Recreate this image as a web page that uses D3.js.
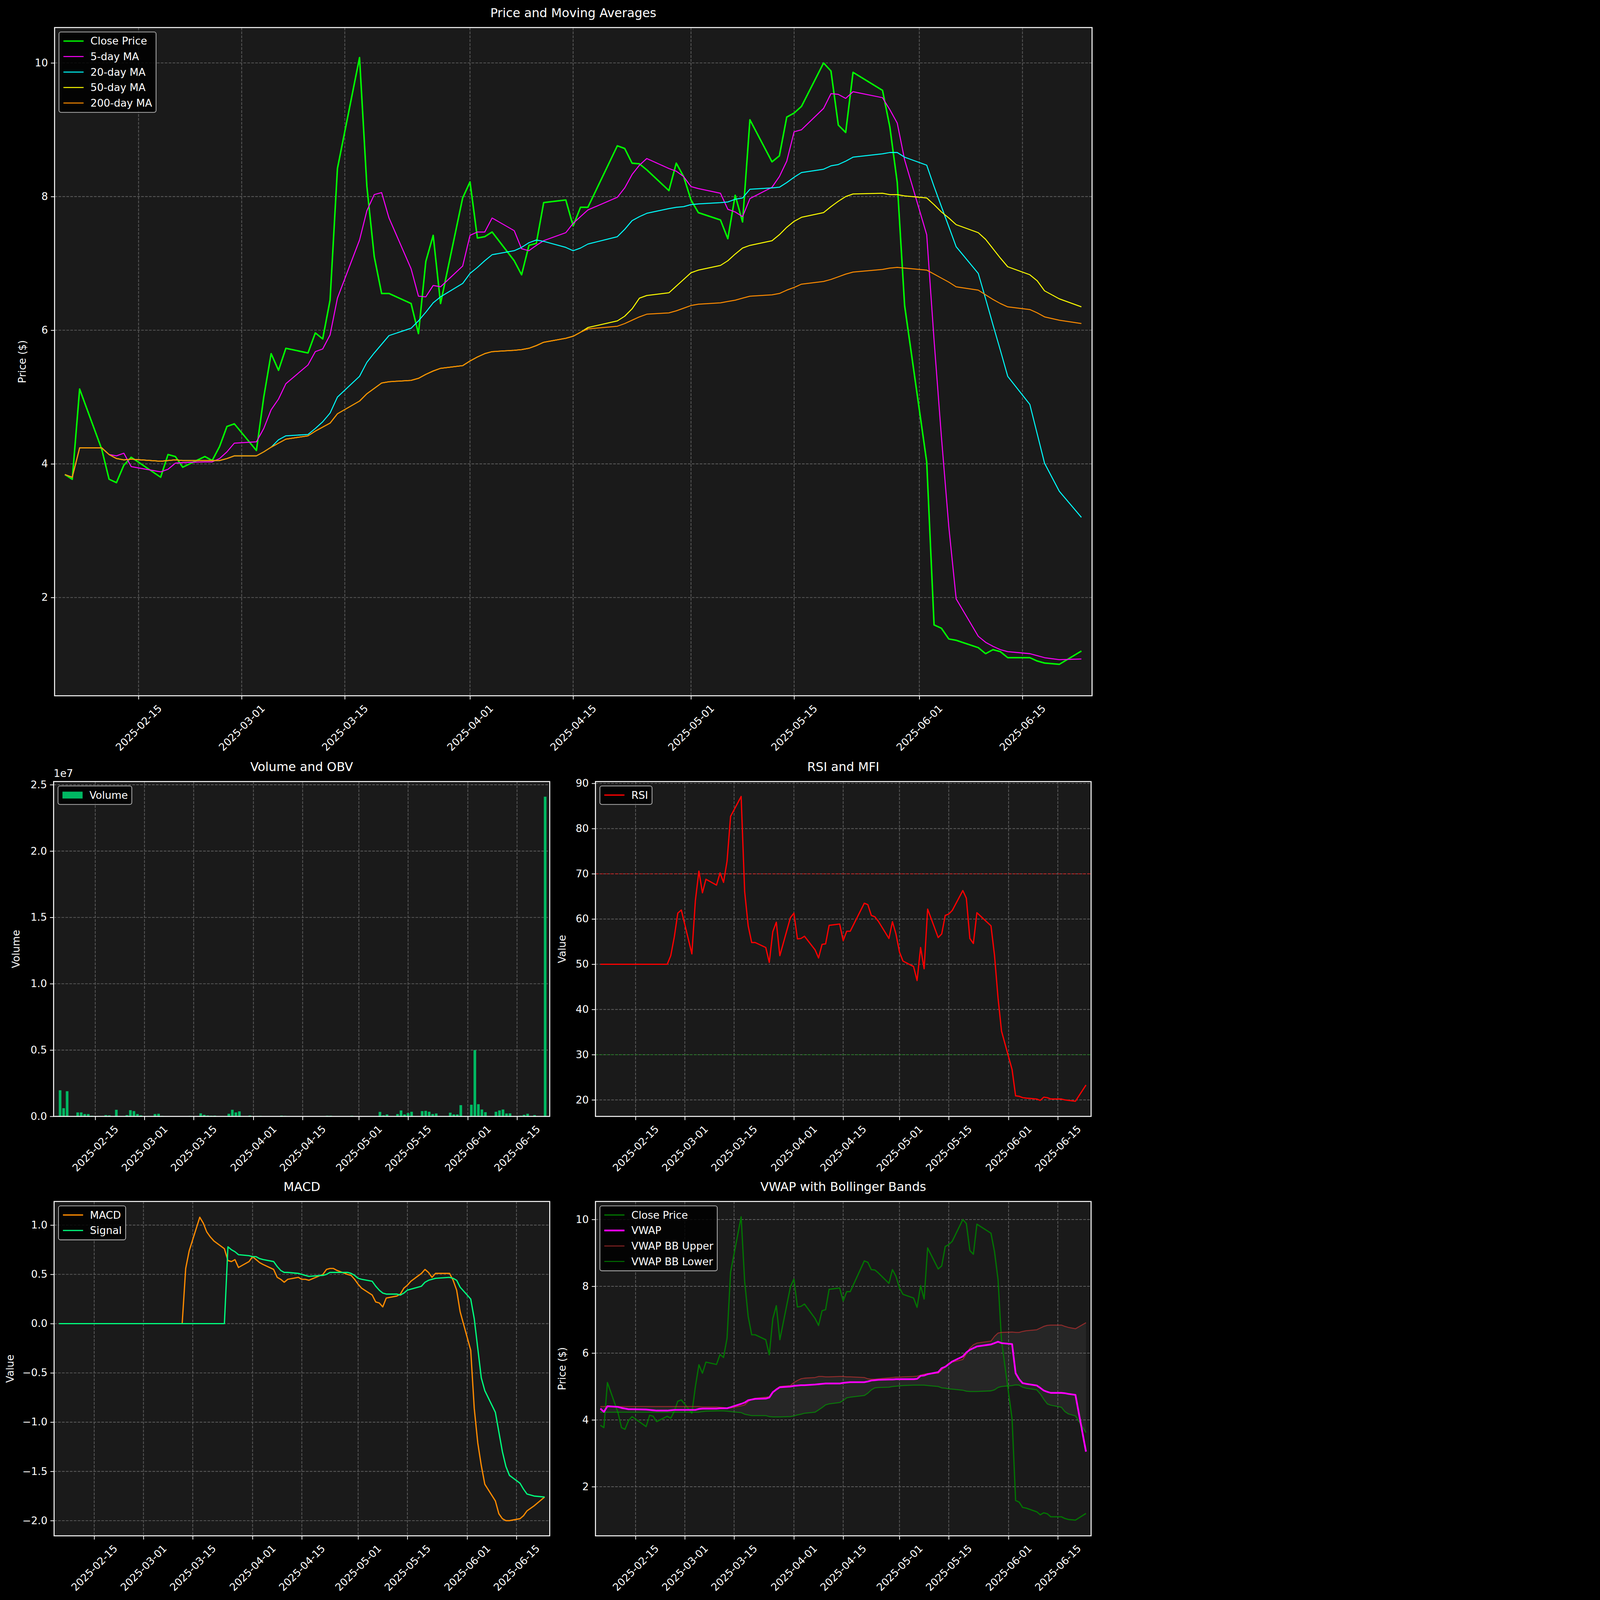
<!DOCTYPE html>
<html>
<head>
<meta charset="utf-8">
<script src="https://cdn.jsdelivr.net/npm/d3@7"></script>
<style>
  html, body { margin: 0; padding: 0; background: #000; overflow: hidden; width: 100%; height: 100%; }
  svg { display: block; }
  text { font-family: "DejaVu Sans", sans-serif; fill: #fff; }
</style>
</head>
<body>
<script>
// trading days
var dates = [
 "2025-02-05","2025-02-06","2025-02-07","2025-02-10","2025-02-11","2025-02-12","2025-02-13","2025-02-14","2025-02-18","2025-02-19","2025-02-20","2025-02-21","2025-02-24","2025-02-25","2025-02-26","2025-02-27","2025-02-28",
 "2025-03-03","2025-03-04","2025-03-05","2025-03-06","2025-03-07","2025-03-10","2025-03-11","2025-03-12","2025-03-13","2025-03-14","2025-03-17","2025-03-18","2025-03-19","2025-03-20","2025-03-21","2025-03-24","2025-03-25","2025-03-26","2025-03-27","2025-03-28","2025-03-31",
 "2025-04-01","2025-04-02","2025-04-03","2025-04-04","2025-04-07","2025-04-08","2025-04-09","2025-04-10","2025-04-11","2025-04-14","2025-04-15","2025-04-16","2025-04-17","2025-04-21","2025-04-22","2025-04-23","2025-04-24","2025-04-25","2025-04-28","2025-04-29","2025-04-30",
 "2025-05-01","2025-05-02","2025-05-05","2025-05-06","2025-05-07","2025-05-08","2025-05-09","2025-05-12","2025-05-13","2025-05-14","2025-05-15","2025-05-16","2025-05-19","2025-05-20","2025-05-21","2025-05-22","2025-05-23","2025-05-27","2025-05-28","2025-05-29","2025-05-30",
 "2025-06-02","2025-06-03","2025-06-04","2025-06-05","2025-06-06","2025-06-09","2025-06-10","2025-06-11","2025-06-12","2025-06-13","2025-06-16","2025-06-17","2025-06-18","2025-06-20","2025-06-23"];

var close = [3.84,3.77,5.12,4.22,3.77,3.72,3.98,4.10,3.80,4.14,4.11,3.95,4.11,4.05,4.26,4.56,4.60,
 4.20,5.00,5.65,5.40,5.73,5.66,5.96,5.87,6.45,8.42,10.08,8.15,7.10,6.55,6.55,6.40,5.95,7.03,7.42,6.40,7.98,
 8.22,7.38,7.40,7.47,7.04,6.83,7.27,7.30,7.91,7.95,7.56,7.84,7.84,8.76,8.72,8.50,8.49,8.40,8.09,8.50,8.30,
 7.95,7.76,7.65,7.37,8.02,7.62,9.15,8.52,8.61,9.19,9.25,9.35,10.0,9.88,9.07,8.96,9.86,9.59,9.04,8.21,6.37,
 4.03,1.59,1.54,1.38,1.36,1.25,1.16,1.22,1.19,1.10,1.10,1.05,1.02,1.00,1.20];

var ma5 = [3.84,3.80,4.24,4.24,4.14,4.12,4.16,3.96,3.88,3.92,4.01,4.02,4.03,4.03,4.08,4.18,4.31,
 4.33,4.53,4.81,4.97,5.20,5.48,5.68,5.72,5.93,6.48,7.35,7.79,8.03,8.06,7.68,6.92,6.51,6.50,6.67,6.65,6.96,
 7.42,7.47,7.47,7.68,7.49,7.22,7.19,7.27,7.34,7.46,7.60,7.70,7.80,7.99,8.13,8.33,8.47,8.57,8.42,8.38,8.30,
 8.15,8.12,8.05,7.81,7.77,7.70,7.97,8.14,8.30,8.53,8.97,9.00,9.32,9.54,9.53,9.47,9.57,9.48,9.30,9.10,8.55,
 7.43,5.85,4.40,3.06,1.98,1.42,1.33,1.27,1.22,1.19,1.16,1.13,1.10,1.07,1.08];

var ma20 = [3.84,3.80,4.24,4.24,4.14,4.08,4.06,4.07,4.04,4.05,4.06,4.05,4.05,4.05,4.05,4.08,4.12,
 4.12,4.18,4.25,4.36,4.42,4.44,4.53,4.63,4.76,5.00,5.31,5.52,5.66,5.79,5.92,6.03,6.14,6.27,6.41,6.50,6.70,
 6.85,6.94,7.04,7.13,7.19,7.24,7.31,7.35,7.33,7.24,7.19,7.23,7.29,7.40,7.51,7.64,7.70,7.75,7.82,7.84,7.85,
 7.88,7.89,7.91,7.92,7.96,7.98,8.11,8.13,8.14,8.21,8.29,8.36,8.41,8.46,8.48,8.53,8.59,8.64,8.66,8.66,8.59,
 8.47,8.15,7.85,7.55,7.25,6.85,6.47,6.08,5.70,5.31,4.89,4.45,4.01,3.59,3.20];

var ma50 = [3.84,3.80,4.24,4.24,4.14,4.08,4.06,4.07,4.04,4.05,4.06,4.05,4.05,4.05,4.05,4.08,4.12,
 4.12,4.18,4.25,4.31,4.37,4.42,4.49,4.55,4.61,4.75,4.94,5.05,5.13,5.21,5.23,5.25,5.28,5.34,5.39,5.43,5.47,
 5.54,5.60,5.65,5.68,5.70,5.71,5.73,5.77,5.82,5.88,5.91,5.97,6.04,6.14,6.21,6.32,6.48,6.52,6.56,6.66,6.76,
 6.86,6.90,6.97,7.04,7.14,7.23,7.27,7.34,7.43,7.54,7.63,7.69,7.76,7.85,7.93,8.00,8.04,8.05,8.03,8.03,8.01,
 7.98,7.88,7.77,7.68,7.58,7.46,7.36,7.22,7.08,6.95,6.83,6.74,6.59,6.47,6.35];

var ma200 = [3.84,3.80,4.24,4.24,4.14,4.08,4.06,4.07,4.04,4.05,4.06,4.05,4.05,4.05,4.05,4.08,4.12,
 4.12,4.18,4.25,4.31,4.37,4.42,4.49,4.55,4.61,4.75,4.94,5.05,5.13,5.21,5.23,5.25,5.28,5.34,5.39,5.43,5.47,
 5.54,5.60,5.65,5.68,5.70,5.71,5.73,5.77,5.82,5.88,5.91,5.97,6.02,6.06,6.10,6.15,6.20,6.24,6.26,6.29,6.33,
 6.37,6.39,6.41,6.43,6.45,6.48,6.51,6.53,6.55,6.60,6.64,6.69,6.73,6.76,6.80,6.84,6.87,6.91,6.93,6.94,6.93,
 6.90,6.84,6.78,6.72,6.65,6.60,6.53,6.46,6.40,6.35,6.31,6.26,6.20,6.15,6.10];

// volume in millions
var volume = [1.97,0.62,1.90,0.30,0.30,0.18,0.18,0.05,0.10,0.08,0.01,0.50,0.10,0.47,0.40,0.18,0.08,
 0.01,0.18,0.20,0.04,0.01,0.01,0.01,0.01,0.01,0.04,0.23,0.12,0.07,0.05,0.06,0.01,0.20,0.50,0.30,0.38,0.07,
 0.03,0.01,0.04,0.01,0.01,0.02,0.06,0.04,0.01,0.01,0.03,0.02,0.01,0.01,0.05,0.05,0.02,0.01,0.01,0.05,0.01,
 0.02,0.01,0.01,0.03,0.34,0.08,0.15,0.18,0.45,0.15,0.25,0.35,0.40,0.42,0.35,0.18,0.22,0.28,0.15,0.15,0.85,
 0.88,5.00,0.92,0.52,0.32,0.35,0.45,0.52,0.22,0.23,0.05,0.12,0.20,0.10,24.1];

var rsi = [50,50,50,50,50,50,50,50,50,50,50,50,50,51.9,56,61.3,62.0,
 52.3,64.1,70.6,65.8,68.8,67.5,70.2,68.1,72.8,82.7,87.1,66.1,58.5,54.8,54.8,53.7,50.4,57.2,59.3,51.9,60.3,
 61.3,55.6,55.7,56.2,53.2,51.4,54.4,54.5,58.6,58.9,55.2,57.3,57.3,63.5,63.2,60.8,60.5,59.5,55.7,59.4,56.7,
 52.7,50.7,49.5,46.4,53.7,49.0,62.2,55.9,56.7,60.8,61.1,61.9,66.3,64.6,55.7,54.6,61.4,58.5,52.0,42.6,35.2,
 26.7,20.9,20.8,20.5,20.4,20.2,19.9,20.6,20.5,20.2,20.2,20.0,19.9,19.7,23.3];

var macd = [0,0,0,0,0,0,0,0,0,0,0,0,0,0,0,0,0,
 0,0,0,0,0,0,0,0,0.56,0.74,1.08,1.02,0.93,0.88,0.84,0.76,0.64,0.63,0.65,0.57,0.63,
 0.68,0.65,0.62,0.60,0.55,0.47,0.45,0.42,0.45,0.47,0.45,0.45,0.44,0.50,0.55,0.56,0.56,0.54,0.50,0.49,0.45,
 0.40,0.36,0.29,0.22,0.21,0.17,0.26,0.28,0.30,0.36,0.39,0.43,0.51,0.55,0.52,0.47,0.51,0.51,0.44,0.34,0.12,
 -0.27,-0.86,-1.21,-1.44,-1.63,-1.80,-1.93,-1.98,-2.00,-2.00,-1.98,-1.95,-1.90,-1.85,-1.76];

var signal = [0,0,0,0,0,0,0,0,0,0,0,0,0,0,0,0,0,
 0,0,0,0,0,0,0,0,0,0,0,0,0,0,0,0,0.78,0.75,0.73,0.70,0.69,
 0.68,0.68,0.66,0.65,0.63,0.58,0.54,0.52,0.52,0.51,0.50,0.49,0.48,0.49,0.50,0.52,0.52,0.52,0.52,0.51,0.49,
 0.46,0.45,0.43,0.38,0.34,0.31,0.30,0.30,0.29,0.31,0.34,0.35,0.38,0.42,0.44,0.45,0.46,0.47,0.46,0.44,0.37,
 0.25,0.05,-0.25,-0.55,-0.68,-0.90,-1.10,-1.30,-1.45,-1.54,-1.62,-1.68,-1.73,-1.75,-1.76];

var vwap = [4.34,4.24,4.41,4.39,4.36,4.34,4.32,4.32,4.31,4.30,4.29,4.28,4.28,4.29,4.30,4.30,4.30,
 4.30,4.30,4.33,4.34,4.34,4.34,4.35,4.35,4.35,4.38,4.48,4.52,4.59,4.61,4.63,4.64,4.67,4.83,4.91,4.98,5.00,
 5.02,5.03,5.04,5.04,5.06,5.07,5.08,5.09,5.09,5.09,5.11,5.12,5.13,5.13,5.15,5.18,5.19,5.20,5.21,5.21,5.22,
 5.22,5.22,5.22,5.23,5.32,5.33,5.37,5.43,5.55,5.59,5.67,5.75,5.90,6.02,6.10,6.15,6.20,6.26,6.30,6.34,6.30,
 6.27,5.40,5.22,5.10,5.08,5.03,4.96,4.88,4.84,4.81,4.81,4.80,4.78,4.75,3.05];

var bbUpper = [4.40,4.40,4.40,4.40,4.40,4.40,4.40,4.40,4.40,4.40,4.40,4.40,4.40,4.40,4.40,4.40,4.40,
 4.40,4.40,4.40,4.39,4.39,4.39,4.38,4.37,4.36,4.36,4.42,4.45,4.55,4.62,4.65,4.68,4.70,4.82,4.93,5.00,5.03,
 5.12,5.18,5.23,5.25,5.27,5.30,5.30,5.29,5.29,5.30,5.30,5.29,5.29,5.27,5.23,5.22,5.22,5.23,5.26,5.27,5.28,
 5.28,5.29,5.30,5.31,5.34,5.37,5.39,5.40,5.50,5.59,5.70,5.73,5.81,5.98,6.15,6.25,6.30,6.36,6.50,6.60,6.62,
 6.63,6.62,6.62,6.65,6.67,6.70,6.75,6.80,6.83,6.84,6.84,6.80,6.77,6.73,6.91];

var bbLower = [4.23,4.23,4.23,4.23,4.23,4.23,4.23,4.23,4.23,4.23,4.23,4.23,4.23,4.23,4.23,4.23,4.23,
 4.23,4.23,4.23,4.25,4.26,4.27,4.27,4.27,4.26,4.25,4.22,4.17,4.15,4.13,4.13,4.13,4.10,4.09,4.09,4.09,4.10,
 4.12,4.15,4.17,4.20,4.23,4.30,4.37,4.45,4.48,4.52,4.58,4.66,4.68,4.73,4.80,4.90,4.96,4.97,4.98,5.00,5.01,
 5.02,5.03,5.04,5.04,5.04,5.04,5.03,5.00,4.96,4.95,4.93,4.92,4.89,4.86,4.85,4.85,4.85,4.87,4.90,4.97,5.00,
 5.03,5.05,5.04,4.98,4.95,4.90,4.78,4.62,4.48,4.44,4.38,4.25,4.18,4.12,3.62];

var dateTicks = ["2025-02-15","2025-03-01","2025-03-15","2025-04-01","2025-04-15","2025-05-01","2025-05-15","2025-06-01","2025-06-15"];

var W = 4470, H = 6508;
var parse = d3.utcParse("%Y-%m-%d");
var days = dates.map(parse);
var tickDates = dateTicks.map(parse);
var DAY = 864e5;
var xDomain = [new Date(parse("2025-02-15") - 11.4 * DAY), new Date(+parse("2025-02-15") + 129.45 * DAY)];

var svg = d3.select("body").append("svg")
    .attr("viewBox", "0 0 " + W + " " + H)
    .attr("preserveAspectRatio", "xMinYMin meet")
    .style("width", "100vw").style("height", "100vh");
svg.append("rect").attr("width", W).attr("height", H).attr("fill", "#000");

function panel(o) {
    var self = {};
    self.x = d3.scaleUtc().domain(o.xDomain || xDomain).range([o.left, o.right]);
    self.y = d3.scaleLinear().domain(o.yDomain).range([o.bottom, o.top]);
    var g = svg.append("g");
    self.g = g;
    g.append("rect").attr("x", o.left).attr("y", o.top)
        .attr("width", o.right - o.left).attr("height", o.bottom - o.top).attr("fill", "#1a1a1a");
    // grid
    g.selectAll(".gx").data(tickDates).enter().append("line")
        .attr("x1", function(d) { return self.x(d); }).attr("x2", function(d) { return self.x(d); })
        .attr("y1", o.top).attr("y2", o.bottom)
        .attr("stroke", "#5e5e5e").attr("stroke-width", 3).attr("stroke-dasharray", "11,5");
    g.selectAll(".gy").data(o.yTicks).enter().append("line")
        .attr("x1", o.left).attr("x2", o.right)
        .attr("y1", function(d) { return self.y(d); }).attr("y2", function(d) { return self.y(d); })
        .attr("stroke", "#5e5e5e").attr("stroke-width", 3).attr("stroke-dasharray", "11,5");
    self.plot = g.append("g");
    // axes
    var xa = g.append("g").attr("transform", "translate(0," + o.bottom + ")")
        .call(d3.axisBottom(self.x).tickValues(tickDates).tickFormat(d3.utcFormat("%Y-%m-%d")).tickSize(15).tickSizeOuter(0));
    // rotated labels, bounding box centred under the tick (matplotlib style)
    xa.selectAll("text").attr("font-size", 42).attr("text-anchor", "middle")
        .attr("y", 0).attr("x", 0).attr("dy", "0.35em")
        .attr("transform", function() {
            var len = this.getComputedTextLength();
            var h = (len + 42) * Math.SQRT1_2;
            return "translate(0," + (15 + 14 + h / 2) + ") rotate(-45)";
        });
    var ya = g.append("g").attr("transform", "translate(" + o.left + ",0)")
        .call(d3.axisLeft(self.y).tickValues(o.yTicks).tickFormat(o.yFormat).tickSize(15).tickSizeOuter(0).tickPadding(12));
    ya.selectAll("text").attr("font-size", 42);
    [xa, ya].forEach(function(a) {
        a.select(".domain").remove();
        a.selectAll("line").attr("stroke", "#fff").attr("stroke-width", 3);
    });
    g.append("rect").attr("x", o.left).attr("y", o.top)
        .attr("width", o.right - o.left).attr("height", o.bottom - o.top)
        .attr("fill", "none").attr("stroke", "#fff").attr("stroke-width", 4);
    g.append("text").attr("x", (o.left + o.right) / 2).attr("y", o.top - 42)
        .attr("text-anchor", "middle").attr("font-size", 50).text(o.title);
    g.append("text").attr("transform", "translate(" + o.ylabX + "," + (o.top + o.bottom) / 2 + ") rotate(-90)")
        .attr("text-anchor", "middle").attr("font-size", 42).text(o.ylabel);

    self.line = function(vals, color, width, opacity) {
        var ln = d3.line().x(function(d, i) { return self.x(days[i]); }).y(function(d) { return self.y(d); });
        self.plot.append("path").datum(vals).attr("d", ln).attr("fill", "none")
            .attr("stroke", color).attr("stroke-width", width).attr("stroke-opacity", opacity || 1)
            .attr("stroke-linejoin", "round");
    };
    self.hline = function(v, color) {
        self.plot.append("line").attr("x1", o.left).attr("x2", o.right)
            .attr("y1", self.y(v)).attr("y2", self.y(v))
            .attr("stroke", color).attr("stroke-width", 4).attr("stroke-dasharray", "14,6");
    };
    self.legend = function(items) {
        var lg = g.append("g").attr("transform", "translate(" + (o.left + 18) + "," + (o.top + 18) + ")");
        var box = lg.append("rect").attr("fill", "#000").attr("fill-opacity", 0.85)
            .attr("stroke", "#bbb").attr("stroke-width", 3).attr("rx", 8);
        var maxW = 0;
        items.forEach(function(it, i) {
            var cy = 37 + i * 63;
            if (it.patch) {
                lg.append("rect").attr("x", 18).attr("y", cy - 14).attr("width", 82).attr("height", 28).attr("fill", it.color);
            } else {
                lg.append("line").attr("x1", 18).attr("x2", 100).attr("y1", cy).attr("y2", cy)
                    .attr("stroke", it.color).attr("stroke-width", it.w || 5).attr("stroke-opacity", it.op || 1);
            }
            var t = lg.append("text").attr("x", 128).attr("y", cy).attr("dy", "0.35em").attr("font-size", 42).text(it.label);
            maxW = Math.max(maxW, t.node().getComputedTextLength());
        });
        box.attr("width", 128 + maxW + 16).attr("height", items.length * 63 + 12);
    };
    return self;
}

// ---- price and moving averages
var pricePanel = panel({ left: 222, right: 4442, top: 112, bottom: 2830, yDomain: [0.53, 10.53],
    yTicks: [2, 4, 6, 8, 10], yFormat: d3.format("d"), title: "Price and Moving Averages",
    ylabel: "Price ($)", ylabX: 105 });
pricePanel.line(close, "#00ff00", 6);
pricePanel.line(ma5, "#ff00ff", 4);
pricePanel.line(ma20, "#00ffff", 4);
pricePanel.line(ma50, "#ffff00", 4);
pricePanel.line(ma200, "#ff8c00", 4);
pricePanel.legend([{ label: "Close Price", color: "#00ff00" }, { label: "5-day MA", color: "#ff00ff", w: 4 },
    { label: "20-day MA", color: "#00ffff", w: 4 }, { label: "50-day MA", color: "#ffff00", w: 4 },
    { label: "200-day MA", color: "#ff8c00", w: 4 }]);

// ---- volume
var volPanel = panel({ left: 218, right: 2236, top: 3179, bottom: 4541, yDomain: [0, 25.24],
    xDomain: [new Date(parse("2025-02-15") - 11.85 * DAY), new Date(+parse("2025-02-15") + 129.3 * DAY)],
    yTicks: [0, 5, 10, 15, 20, 25], yFormat: function(d) { return (d / 10).toFixed(1); },
    title: "Volume and OBV", ylabel: "Volume", ylabX: 80 });
var bw = volPanel.x(new Date(+days[0] + 0.75 * DAY)) - volPanel.x(days[0]);
volPanel.plot.selectAll("rect.bar").data(volume).enter().append("rect")
    .attr("x", function(d, i) { return volPanel.x(days[i]) - bw / 2; })
    .attr("y", function(d) { return volPanel.y(d); })
    .attr("width", bw)
    .attr("height", function(d) { return volPanel.y(0) - volPanel.y(d); })
    .attr("fill", "#00b862");
volPanel.g.append("text").attr("x", 218).attr("y", 3160).attr("font-size", 42).text("1e7");
volPanel.legend([{ label: "Volume", color: "#00b862", patch: true }]);

// ---- RSI
var rsiPanel = panel({ left: 2422, right: 4438, top: 3179, bottom: 4541, yDomain: [16.35, 90.4],
    yTicks: [20, 30, 40, 50, 60, 70, 80, 90], yFormat: d3.format("d"),
    title: "RSI and MFI", ylabel: "Value", ylabX: 2300 });
rsiPanel.hline(70, "rgba(255,0,0,0.5)");
rsiPanel.hline(30, "rgba(0,128,0,0.5)");
rsiPanel.line(rsi, "#ff0000", 5);
rsiPanel.legend([{ label: "RSI", color: "#ff0000" }]);

// ---- MACD
var macdPanel = panel({ left: 220, right: 2236, top: 4887, bottom: 6247, yDomain: [-2.154, 1.24],
    yTicks: [-2, -1.5, -1, -0.5, 0, 0.5, 1], yFormat: function(d) { return d3.format(".1f")(d).replace("-", "\u2212"); },
    title: "MACD", ylabel: "Value", ylabX: 55 });
macdPanel.line(macd, "#ff8c00", 5);
macdPanel.line(signal, "#00ff7f", 5);
macdPanel.legend([{ label: "MACD", color: "#ff8c00" }, { label: "Signal", color: "#00ff7f" }]);

// ---- VWAP
var vwapPanel = panel({ left: 2422, right: 4438, top: 4887, bottom: 6247, yDomain: [0.53, 10.54],
    yTicks: [2, 4, 6, 8, 10], yFormat: d3.format("d"),
    title: "VWAP with Bollinger Bands", ylabel: "Price ($)", ylabX: 2300 });
var band = d3.area().x(function(d, i) { return vwapPanel.x(days[i]); })
    .y0(function(d, i) { return vwapPanel.y(bbLower[i]); }).y1(function(d) { return vwapPanel.y(d); });
vwapPanel.plot.append("path").datum(bbUpper).attr("d", band).attr("fill", "#808080").attr("fill-opacity", 0.12);
vwapPanel.line(close, "#008000", 5, 0.9);
vwapPanel.line(bbUpper, "#c03030", 4, 0.7);
vwapPanel.line(bbLower, "#00a000", 4, 0.7);
vwapPanel.line(vwap, "#ff00ff", 7);
vwapPanel.legend([{ label: "Close Price", color: "#008000", op: 0.9 }, { label: "VWAP", color: "#ff00ff", w: 7 },
    { label: "VWAP BB Upper", color: "#c03030", w: 4, op: 0.7 }, { label: "VWAP BB Lower", color: "#00a000", w: 4, op: 0.7 }]);
</script>
</body>
</html>
